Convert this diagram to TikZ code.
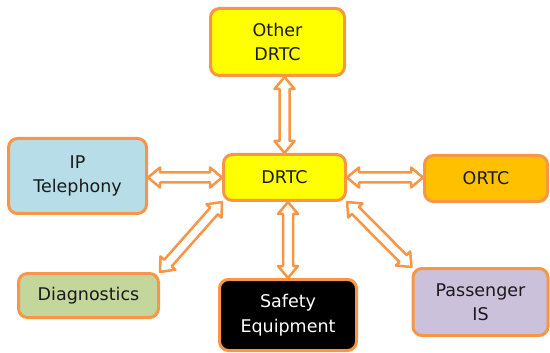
\documentclass[tikz,border=0pt]{standalone}
\usepackage{fontspec}
\setmainfont{DejaVu Sans}
\usetikzlibrary{calc}
\definecolor{borderor}{HTML}{F79646}
\definecolor{yel}{HTML}{FFFF00}
\definecolor{ortcfill}{HTML}{FFC000}
\definecolor{ipfill}{HTML}{B7DDE8}
\definecolor{diagfill}{HTML}{C3D69B}
\definecolor{passfill}{HTML}{CCC1DA}
\definecolor{txt}{HTML}{1A1A1A}
\tikzset{
  box/.style={draw=borderor, line width=3pt, rounded corners=9pt, inner sep=0pt,
    align=center, text=txt, font=\fontsize{17.5}{24.5}\selectfont},
  arrowline/.style={draw=borderor, fill=white, line width=2.5pt, line join=round},
}
\newcommand\dblarrow[2]{%
  \coordinate (pA) at (#1);
  \coordinate (pB) at (#2);
  \coordinate (a1) at ($(pA)!12pt!(pB)$);
  \coordinate (b1) at ($(pB)!12pt!(pA)$);
  \path[arrowline] (pA) -- ($(a1)!10pt!90:(pB)$) -- ($(a1)!5pt!90:(pB)$)
    -- ($(b1)!5pt!-90:(pA)$) -- ($(b1)!10pt!-90:(pA)$) -- (pB)
    -- ($(b1)!10pt!90:(pA)$) -- ($(b1)!5pt!90:(pA)$)
    -- ($(a1)!5pt!-90:(pB)$) -- ($(a1)!10pt!-90:(pB)$) -- cycle;
}
\begin{document}
\begin{tikzpicture}[x=1pt,y=1pt]
\useasboundingbox (0,0) rectangle (550,-353);
\node[box, fill=yel, minimum width=134pt, minimum height=67pt] (other) at (277.5,-42) {Other\\DRTC};
\node[box, fill=ipfill, minimum width=138pt, minimum height=75pt] (ip) at (77.5,-176) {IP\\Telephony};
\node[box, fill=yel, minimum width=122pt, minimum height=46pt] (drtc) at (284.5,-177.5) {DRTC};
\node[box, fill=ortcfill, minimum width=123pt, minimum height=46pt] (ortc) at (486,-178.5) {ORTC};
\node[box, fill=diagfill, minimum width=140pt, minimum height=44pt] (diag) at (88.5,-295.5) {Diagnostics};
\node[box, fill=black, text=white, minimum width=137pt, minimum height=71pt] (safety) at (288,-315) {Safety\\Equipment};
\node[box, fill=passfill, minimum width=135pt, minimum height=67pt] (pass) at (480.5,-302) {Passenger\\IS};
\dblarrow{drtc.north}{other.south -| drtc.north}
\dblarrow{ip.east |- drtc.west}{drtc.west}
\dblarrow{drtc.east}{ortc.west |- drtc.east}
\dblarrow{drtc.south -| safety.north}{safety.north}
\dblarrow{drtc.south west}{diag.north east}
\dblarrow{drtc.south east}{pass.north west}
\end{tikzpicture}
\end{document}
